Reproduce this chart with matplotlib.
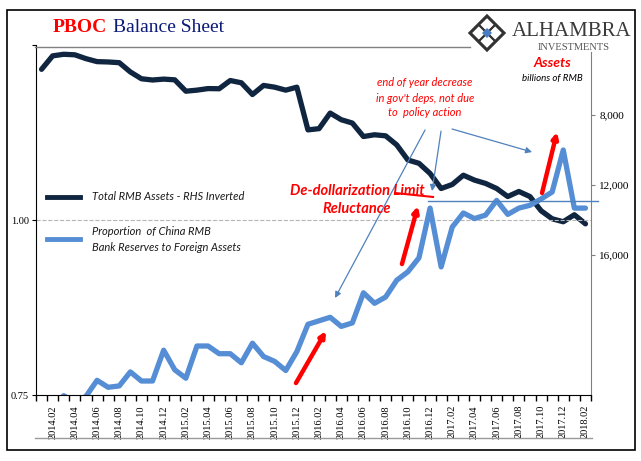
import matplotlib
matplotlib.use("Agg")
import matplotlib.pyplot as plt
from matplotlib.patches import Polygon, Rectangle
from matplotlib.lines import Line2D

# months 2014.01 .. 2018.02
months = ["%d.%02d" % (y, m) for y in range(2014, 2019) for m in range(1, 13)][:50]

# Total RMB assets, billions of RMB (right axis, inverted)
assets = [5390, 4620, 4530, 4560, 4780, 4950, 4970, 5010, 5540, 5930,
          6000, 5950, 5990, 6640, 6580, 6490, 6500, 6030, 6160, 6830,
          6310, 6410, 6580, 6410, 8850, 8780, 7890, 8270, 8460, 9230,
          9130, 9190, 9710, 10570, 10760, 11340, 12200, 11970, 11440, 11720,
          11910, 12200, 12660, 12370, 12660, 13470, 13930, 14100, 13700, 14220]

# proportion of RMB bank reserves to foreign assets (left axis)
ratio = [0.720, 0.735, 0.749, 0.740, 0.748, 0.771, 0.761, 0.763, 0.783, 0.770,
         0.770, 0.814, 0.786, 0.774, 0.820, 0.820, 0.809, 0.809, 0.796, 0.824,
         0.805, 0.798, 0.785, 0.812, 0.851, 0.856, 0.861, 0.848, 0.853, 0.896,
         0.881, 0.890, 0.914, 0.926, 0.946, 1.017, 0.933, 0.990, 1.010, 1.002,
         1.007, 1.028, 1.008, 1.017, 1.021, 1.030, 1.040, 1.100, 1.017, 1.017]

W, H = 641, 461
def px(x, y):
    return (x / W, 1 - y / H)

dark = "#10253f"
blue = "#558ed5"
thin = "#4f81bd"
serif = "Liberation Serif"
sans = "Lato"

fig = plt.figure(figsize=(6.41, 4.61), dpi=100)
ax = fig.add_axes([36 / W, 1 - 395 / H, 555 / W, 350 / H])
ax2 = ax.twinx()

x = list(range(len(months)))
ax2.plot(x, assets, color=dark, lw=3.8, solid_capstyle="round", solid_joinstyle="round")
ax.plot(x, ratio, color=blue, lw=3.8, solid_capstyle="round", solid_joinstyle="round")
ax.set_zorder(ax2.get_zorder() + 1)
ax.patch.set_visible(False)

ax.set_xlim(-0.5, len(months) - 0.5)
ax.set_ylim(0.75, 1.25)
ax2.set_ylim(24000, 4000)

ax.axhline(1.0, color="#b5b5b5", ls="--", lw=0.8, zorder=0)

# spines
for s in ["top", "right"]:
    ax.spines[s].set_visible(False)
ax2.spines["top"].set_visible(False)
ax2.spines["left"].set_visible(False)
ax2.spines["bottom"].set_visible(False)
ax2.spines["right"].set_color("#808080")
ax2.spines["right"].set_bounds(24000, 4400)
ax.spines["left"].set_color("black")
ax.spines["bottom"].set_color("black")

# x ticks at category boundaries, labels on even months
ax.set_xticks([i - 0.5 for i in range(len(months) + 1)])
ax.set_xticklabels([])
ax.tick_params(axis="x", length=4, width=1, color="black")
for i, m in enumerate(months):
    if i % 2 == 1:
        ax.text(i, 0.7357, m, rotation=90, ha="center", va="top",
                fontsize=7.5, family=serif)

ax.set_yticks([0.75, 1.0, 1.25])
ax.set_yticklabels(["0.75", "1.00", ""], fontsize=7.5, family=serif)
ax.tick_params(axis="y", length=3, pad=2)

ax2.set_yticks([8000, 12000, 16000])
ax2.set_yticklabels(["8,000", "12,000", "16,000"], fontsize=8, family=serif)
ax2.tick_params(axis="y", length=3, color="#808080", pad=3)

# frame and guide lines
fig.add_artist(Rectangle(px(7, 450), 628 / W, 440 / H, fill=False,
                         ec="black", lw=1.2, transform=fig.transFigure))
fig.add_artist(Line2D([35 / W, 470 / W], [1 - 47 / H] * 2, color="#808080", lw=1))
fig.add_artist(Line2D([35 / W, 592 / W], [1 - 438 / H] * 2, color="#999999", lw=1))

# title
fig.text(*px(53, 28), "PBOC", color="red", fontsize=14, weight="bold",
         family=serif, va="center")
fig.text(*px(113, 28), "Balance Sheet", color="#0c1a78", fontsize=14,
         family=serif, va="center")

# logo
cx, cy, r = 487, 33, 17
fig.add_artist(Polygon([px(cx - r, cy), px(cx, cy - r), px(cx + r, cy), px(cx, cy + r)],
                       closed=True, fc="white", ec="#333333", lw=2.2,
                       transform=fig.transFigure))
for k in (-1, 1):
    fig.add_artist(Polygon([px(cx - r / 2, cy + k * r / 2), px(cx, cy + k * r / 2 - r / 2),
                            px(cx + r / 2, cy + k * r / 2), px(cx, cy + k * r / 2 + r / 2)],
                           closed=True, fc="none", ec="#333333", lw=1.4,
                           transform=fig.transFigure))
    fig.add_artist(Polygon([px(cx + k * r / 2 - r / 2, cy), px(cx + k * r / 2, cy - r / 2),
                            px(cx + k * r / 2 + r / 2, cy), px(cx + k * r / 2, cy + r / 2)],
                           closed=True, fc="none", ec="#333333", lw=1.4,
                           transform=fig.transFigure))
fig.add_artist(Polygon([px(cx - 5, cy), px(cx, cy - 5), px(cx + 5, cy), px(cx, cy + 5)],
                       closed=True, fc="#4a7cc2", ec="none", transform=fig.transFigure))
fig.text(*px(572, 31), "ALHAMBRA", color="#3a3a3a", fontsize=15, family=serif,
         ha="center", va="center")
fig.text(*px(574, 48), "INVESTMENTS", color="#555555", fontsize=7.5, family=serif,
         ha="center", va="center")

# axis caption
fig.text(*px(552, 63), "Assets", color="red", fontsize=10, weight="bold",
         style="italic", family=sans, ha="center", va="center")
fig.text(*px(552, 78), "billions of RMB", color="black", fontsize=7,
         style="italic", family=sans, ha="center", va="center")

# legend
fig.add_artist(Line2D([47 / W, 80 / W], [1 - 197 / H] * 2, color=dark, lw=3.5))
fig.add_artist(Line2D([47 / W, 80 / W], [1 - 239 / H] * 2, color=blue, lw=3.5))
fig.text(*px(92, 197), "Total RMB Assets - RHS Inverted", fontsize=8,
         style="italic", family=sans, va="center", color="#1a1a1a")
fig.text(*px(92, 231), "Proportion  of China RMB", fontsize=8,
         style="italic", family=sans, va="center", color="#1a1a1a")
fig.text(*px(92, 247), "Bank Reserves to Foreign Assets", fontsize=8,
         style="italic", family=sans, va="center", color="#1a1a1a")

# annotations
for j, line in enumerate(["end of year decrease", "in gov't deps, not due", "to  policy action"]):
    fig.text(*px(425, 83 + 15 * j), line, color="red", fontsize=8, style="italic",
             family=sans, ha="center", va="center")
fig.text(*px(290, 191), "De-dollarization Limit", color="red", fontsize=10.5,
         weight="bold", style="italic", family=sans, va="center")
fig.text(*px(357, 209), "Reluctance", color="red", fontsize=10.5,
         weight="bold", style="italic", family=sans, ha="center", va="center")
ax.plot([31.84, 35.27], [1.0386, 1.0329], color="red", lw=1.5, clip_on=False)

ax.plot([34.82, 50.13], [1.0271, 1.0271], color=thin, lw=1, clip_on=False)

thin_arrows = [((34.55, 1.1286), (26.44, 0.8886)),
               ((35.99, 1.127), (35.18, 1.0414)),
               ((36.98, 1.13), (44.19, 1.0971))]
for (x0, y0), (x1, y1) in thin_arrows:
    ax.annotate("", xy=(x1, y1), xytext=(x0, y0),
                arrowprops=dict(arrowstyle="-|>", color=thin, lw=0.9,
                                mutation_scale=9, shrinkA=0, shrinkB=0))

red_arrows = [((22.92, 0.7671), (25.63, 0.8414)),
              ((32.47, 0.9371), (33.91, 1.02)),
              ((45.09, 1.0386), (46.44, 1.1257))]
for (x0, y0), (x1, y1) in red_arrows:
    ax.annotate("", xy=(x1, y1), xytext=(x0, y0),
                arrowprops=dict(arrowstyle="-|>", color="red", lw=3.2,
                                mutation_scale=8, shrinkA=0, shrinkB=0))

fig.savefig("out.png", dpi=100)
